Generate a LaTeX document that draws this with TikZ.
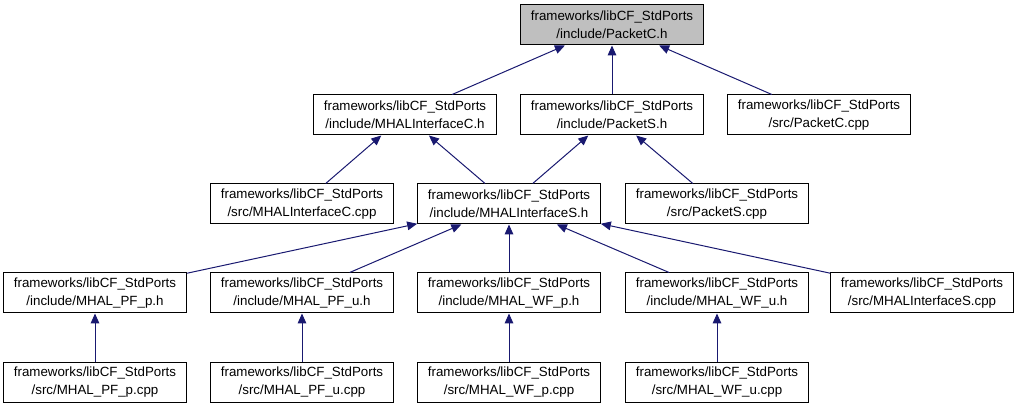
\documentclass[tikz,border=0pt]{standalone}
\usepackage{fontspec}
\setmainfont{Liberation Sans}
\usetikzlibrary{arrows.meta}

\definecolor{edgeblue}{HTML}{191970}
\definecolor{boxgray}{HTML}{BFBFBF}

\begin{document}
\begin{tikzpicture}[x=0.75pt, y=-0.75pt,
		file/.style={draw, line width=0.75pt, minimum width=137pt, minimum height=30pt,
			inner sep=0pt, align=center, font=\fontsize{10}{13.5}\selectfont},
		dep/.style={draw=edgeblue, line width=0.75pt, -{Triangle[length=7.5pt, width=6.5pt]}}]
		
		% page frame
		\useasboundingbox (0,0) rectangle (1020,409);
		
		% top file
		\node[file, fill=boxgray] (packetc) at (612,25) {frameworks/libCF\_StdPorts\\/include/PacketC.h};
		
		% second row
		\node[file] (mhalic) at (405,115) {frameworks/libCF\_StdPorts\\/include/MHALInterfaceC.h};
		\node[file] (packets) at (612,115) {frameworks/libCF\_StdPorts\\/include/PacketS.h};
		\node[file] (packetccpp) at (819,115) {frameworks/libCF\_StdPorts\\/src/PacketC.cpp};
		
		% third row
		\node[file] (mhaliccpp) at (302,204) {frameworks/libCF\_StdPorts\\/src/MHALInterfaceC.cpp};
		\node[file] (mhalis) at (509,204) {frameworks/libCF\_StdPorts\\/include/MHALInterfaceS.h};
		\node[file] (packetscpp) at (717,204) {frameworks/libCF\_StdPorts\\/src/PacketS.cpp};
		
		% fourth row
		\node[file] (pfp) at (95,293) {frameworks/libCF\_StdPorts\\/include/MHAL\_PF\_p.h};
		\node[file] (pfu) at (302,293) {frameworks/libCF\_StdPorts\\/include/MHAL\_PF\_u.h};
		\node[file] (wfp) at (509,293) {frameworks/libCF\_StdPorts\\/include/MHAL\_WF\_p.h};
		\node[file] (wfu) at (717,293) {frameworks/libCF\_StdPorts\\/include/MHAL\_WF\_u.h};
		\node[file] (mhaliscpp) at (922,293) {frameworks/libCF\_StdPorts\\/src/MHALInterfaceS.cpp};
		
		% bottom row
		\node[file] (pfpcpp) at (95,382) {frameworks/libCF\_StdPorts\\/src/MHAL\_PF\_p.cpp};
		\node[file] (pfucpp) at (302,382) {frameworks/libCF\_StdPorts\\/src/MHAL\_PF\_u.cpp};
		\node[file] (wfpcpp) at (509,382) {frameworks/libCF\_StdPorts\\/src/MHAL\_WF\_p.cpp};
		\node[file] (wfucpp) at (717,382) {frameworks/libCF\_StdPorts\\/src/MHAL\_WF\_u.cpp};
		
		% includes of PacketC.h
		\draw[dep] (mhalic) -- (packetc);
		\draw[dep] (packets) -- (packetc);
		\draw[dep] (packetccpp) -- (packetc);
		
		% includes of the second row
		\draw[dep] (mhaliccpp) -- (mhalic);
		\draw[dep] (mhalis) -- (mhalic);
		\draw[dep] (mhalis) -- (packets);
		\draw[dep] (packetscpp) -- (packets);
		
		% includes of MHALInterfaceS.h
		\draw[dep] (pfp) -- (mhalis);
		\draw[dep] (pfu) -- (mhalis);
		\draw[dep] (wfp) -- (mhalis);
		\draw[dep] (wfu) -- (mhalis);
		\draw[dep] (mhaliscpp) -- (mhalis);
		
		% sources of the fourth row
		\draw[dep] (pfpcpp) -- (pfp);
		\draw[dep] (pfucpp) -- (pfu);
		\draw[dep] (wfpcpp) -- (wfp);
		\draw[dep] (wfucpp) -- (wfu);
		
	\end{tikzpicture}
\end{document}
